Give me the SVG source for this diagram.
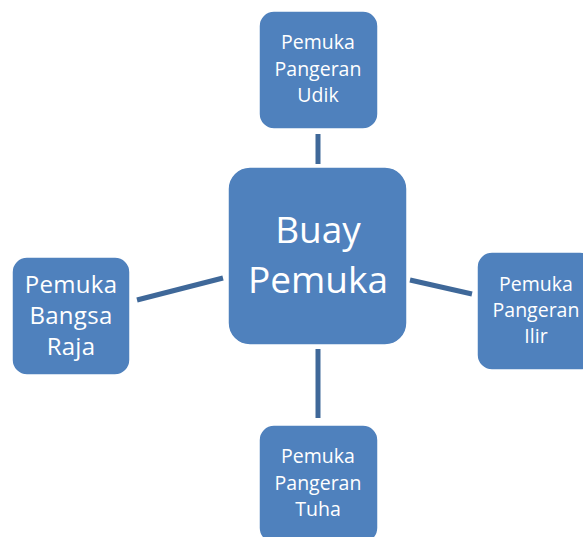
<svg xmlns="http://www.w3.org/2000/svg" width="583" height="537" viewBox="0 0 583 537">
<style>
.node{fill:#4F81BD;stroke:#FFFFFF;stroke-width:1.5}
.t{fill:#FFFFFF;font-family:"Open Sans","Noto Sans","DejaVu Sans",sans-serif;text-anchor:middle}
.s{font-size:19.5px}
.m{font-size:24px;letter-spacing:0.3px}
.l{font-size:37px}
.c{stroke:#3F6899;stroke-width:5;fill:none}
</style>
<rect width="583" height="537" fill="#FFFFFF"/>
<g id="connectors">
<line class="c" x1="318" y1="134" x2="318" y2="164"/>
<line class="c" x1="318" y1="349" x2="318" y2="418"/>
<line class="c" x1="137" y1="300" x2="223" y2="278"/>
<line class="c" x1="410" y1="280" x2="472" y2="294"/>
</g>
<g id="center">
<rect class="node" x="228" y="167" width="179" height="178" rx="22"/>
<text class="t l" x="318" y="243">Buay</text>
<text class="t l" x="318" y="293">Pemuka</text>
</g>
<g id="top">
<rect class="node" x="259" y="11" width="119" height="118" rx="15"/>
<text class="t s" x="318" y="49">Pemuka</text>
<text class="t s" x="318" y="76">Pangeran</text>
<text class="t s" x="318" y="102">Udik</text>
</g>
<g id="left">
<rect class="node" x="12" y="257" width="118" height="118" rx="15"/>
<text class="t m" x="71" y="293">Pemuka</text>
<text class="t m" x="71" y="324">Bangsa</text>
<text class="t m" x="71" y="355">Raja</text>
</g>
<g id="right">
<rect class="node" x="477" y="252" width="118" height="118" rx="15"/>
<text class="t s" x="536" y="291">Pemuka</text>
<text class="t s" x="536" y="317">Pangeran</text>
<text class="t s" x="536" y="343">Ilir</text>
</g>
<g id="bottom">
<rect class="node" x="259" y="425" width="119" height="118" rx="15"/>
<text class="t s" x="318" y="463">Pemuka</text>
<text class="t s" x="318" y="490">Pangeran</text>
<text class="t s" x="318" y="516">Tuha</text>
</g>
</svg>
